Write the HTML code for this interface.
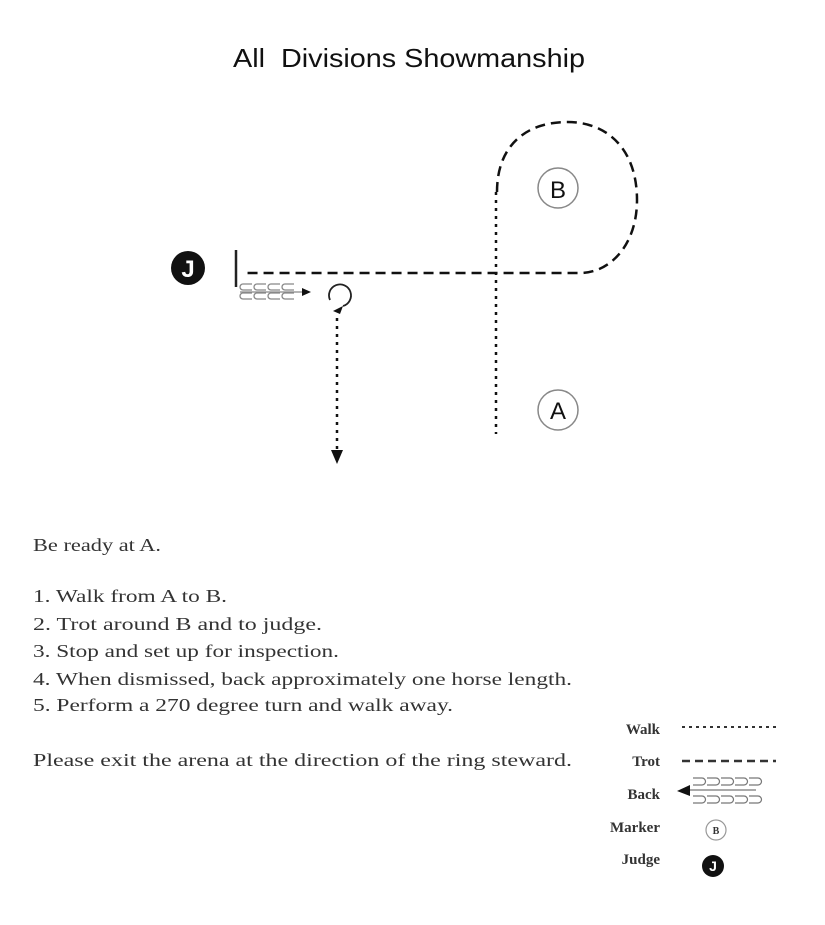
<!DOCTYPE html>
<html><head><style>
body{margin:0;background:#fff;}
svg{display:block;}
.s{font-family:"Liberation Serif",serif;fill:#333;}
</style></head><body>
<svg width="825" height="925" viewBox="0 0 825 925" xmlns="http://www.w3.org/2000/svg">
<text x="233" y="67" textLength="352" lengthAdjust="spacingAndGlyphs" font-family="Liberation Sans,sans-serif" font-size="26" fill="#111">All&#160; Divisions Showmanship</text>
<!-- loop trot -->
<path d="M497 192 C497 142 530 122 567 122 C610 122 637 152 637 200 C637 245 610 273 580 273 L245 273" fill="none" stroke="#111" stroke-width="2.5" stroke-dasharray="10,6"/>
<line x1="496" y1="192" x2="496" y2="434" stroke="#111" stroke-width="2.5" stroke-dasharray="3,5"/>
<circle cx="558" cy="188" r="20" fill="#fff" stroke="#888" stroke-width="1.5"/>
<text x="558" y="198" text-anchor="middle" font-family="Liberation Sans,sans-serif" font-size="24" fill="#111">B</text>
<circle cx="558" cy="410" r="20" fill="#fff" stroke="#888" stroke-width="1.5"/>
<text x="558" y="419" text-anchor="middle" font-family="Liberation Sans,sans-serif" font-size="24" fill="#111">A</text>
<circle cx="188" cy="268" r="17" fill="#111"/>
<text x="188" y="277" text-anchor="middle" font-family="Liberation Sans,sans-serif" font-size="24" font-weight="bold" fill="#fff">J</text>
<line x1="236" y1="250" x2="236" y2="287" stroke="#222" stroke-width="2.5"/>
<g fill="none" stroke="#888" stroke-width="1.3">
<path d="M252 284 h-9 a3 3 0 0 0 0 6 h9 M266 284 h-9 a3 3 0 0 0 0 6 h9 M280 284 h-9 a3 3 0 0 0 0 6 h9 M294 284 h-9 a3 3 0 0 0 0 6 h9"/>
<path d="M252 293 h-9 a3 3 0 0 0 0 6 h9 M266 293 h-9 a3 3 0 0 0 0 6 h9 M280 293 h-9 a3 3 0 0 0 0 6 h9 M294 293 h-9 a3 3 0 0 0 0 6 h9"/>
<line x1="240" y1="292" x2="302" y2="292"/>
</g>
<polygon points="302,288 311,292 302,296" fill="#111"/>
<path d="M330 300 A11 11 0 1 1 343 306" fill="none" stroke="#222" stroke-width="1.8"/>
<polygon points="333,311 343,306 340,314" fill="#111"/>
<line x1="337" y1="318" x2="337" y2="452" stroke="#111" stroke-width="2.5" stroke-dasharray="3,5"/>
<polygon points="331,450 343,450 337,464" fill="#111"/>
<g class="s" font-size="18" lengthAdjust="spacingAndGlyphs">
<text x="33" y="551" textLength="128" lengthAdjust="spacingAndGlyphs">Be ready at A.</text>
<text x="33" y="602" textLength="194" lengthAdjust="spacingAndGlyphs">1. Walk from A to B.</text>
<text x="33" y="630" textLength="289" lengthAdjust="spacingAndGlyphs">2.  Trot around B and to judge.</text>
<text x="33" y="657" textLength="306" lengthAdjust="spacingAndGlyphs">3.  Stop and set up for inspection.</text>
<text x="33" y="685" textLength="539" lengthAdjust="spacingAndGlyphs">4.  When dismissed, back approximately one horse length.</text>
<text x="33" y="711" textLength="420" lengthAdjust="spacingAndGlyphs">5.  Perform a 270 degree turn and walk away.</text>
<text x="33" y="766" textLength="539" lengthAdjust="spacingAndGlyphs">Please exit the arena at the direction of  the ring steward.</text>
</g>
<g class="s" font-size="15" font-weight="bold" text-anchor="end">
<text x="660" y="734">Walk</text>
<text x="660" y="766">Trot</text>
<text x="660" y="799">Back</text>
<text x="660" y="832">Marker</text>
<text x="660" y="864">Judge</text>
</g>
<line x1="682" y1="727" x2="776" y2="727" stroke="#333" stroke-width="2" stroke-dasharray="3,4"/>
<line x1="682" y1="761" x2="776" y2="761" stroke="#333" stroke-width="2.5" stroke-dasharray="8,5"/>
<g fill="none" stroke="#777" stroke-width="1.2">
<path d="M693 778 h9 a3.5 3.5 0 0 1 0 7 h-9 M707 778 h9 a3.5 3.5 0 0 1 0 7 h-9 M721 778 h9 a3.5 3.5 0 0 1 0 7 h-9 M735 778 h9 a3.5 3.5 0 0 1 0 7 h-9 M749 778 h9 a3.5 3.5 0 0 1 0 7 h-9"/>
<path d="M693 796 h9 a3.5 3.5 0 0 1 0 7 h-9 M707 796 h9 a3.5 3.5 0 0 1 0 7 h-9 M721 796 h9 a3.5 3.5 0 0 1 0 7 h-9 M735 796 h9 a3.5 3.5 0 0 1 0 7 h-9 M749 796 h9 a3.5 3.5 0 0 1 0 7 h-9"/>
<line x1="682" y1="790" x2="756" y2="790"/>
</g>
<polygon points="690,785 677,791 690,796" fill="#111"/>
<circle cx="716" cy="830" r="10" fill="#fff" stroke="#999" stroke-width="1.2"/>
<text x="716" y="834" text-anchor="middle" class="s" font-size="10" font-weight="bold">B</text>
<circle cx="713" cy="866" r="11" fill="#111"/>
<text x="713" y="871" text-anchor="middle" font-family="Liberation Sans,sans-serif" font-size="14" font-weight="bold" fill="#fff">J</text>
</svg>
</body></html>
